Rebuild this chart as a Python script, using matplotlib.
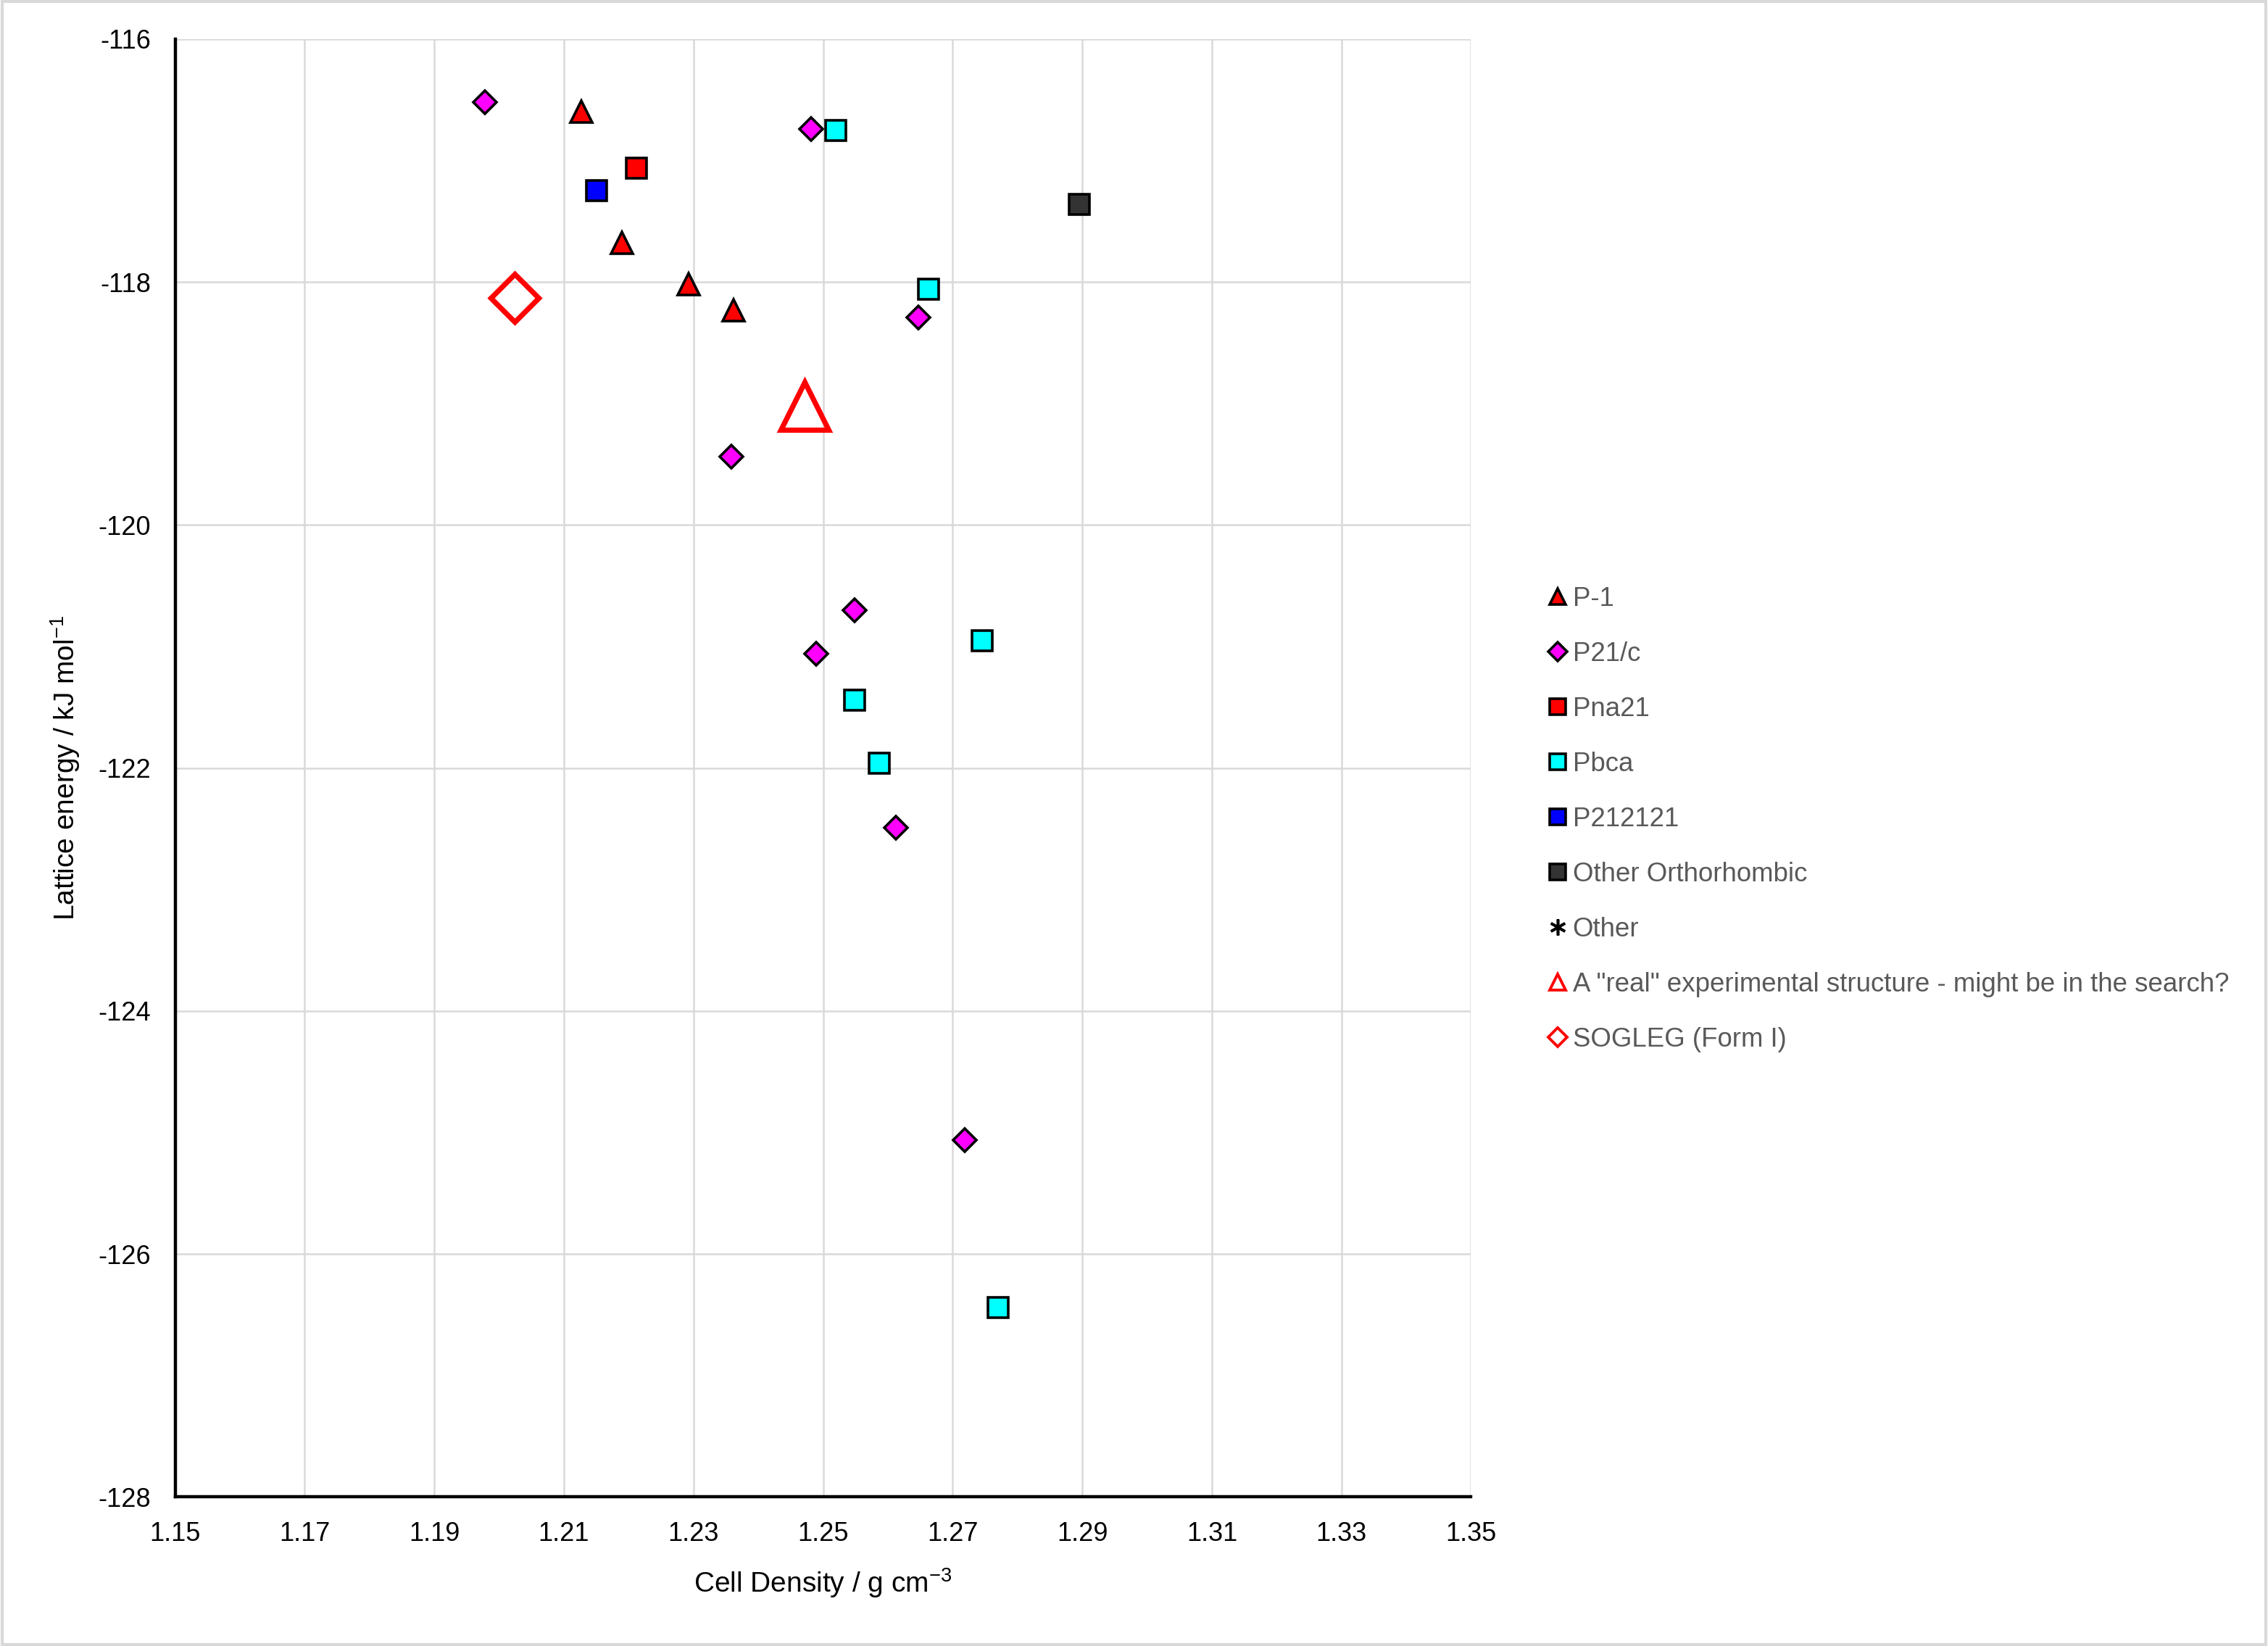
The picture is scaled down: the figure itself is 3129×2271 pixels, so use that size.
import matplotlib
matplotlib.use("Agg")
import matplotlib.pyplot as plt
from matplotlib.patches import Rectangle

plt.rcParams['font.family'] = ['Liberation Sans Narrow', 'Liberation Sans', 'DejaVu Sans']
plt.rcParams['mathtext.default'] = 'regular'
plt.rcParams['axes.unicode_minus'] = False

# data (density g/cm3, lattice energy kJ/mol)
p1_x = [1.2127, 1.2190, 1.2292, 1.2362]
p1_y = [-116.60, -117.68, -118.02, -118.23]

p21c_x = [1.1978, 1.2482, 1.2647, 1.2359, 1.2549, 1.2489, 1.2612, 1.2719]
p21c_y = [-116.52, -116.74, -118.29, -119.44, -120.70, -121.06, -122.49, -125.06]

pna21_x = [1.2212]
pna21_y = [-117.06]

pbca_x = [1.2520, 1.2663, 1.2746, 1.2549, 1.2587, 1.2770]
pbca_y = [-116.75, -118.06, -120.95, -121.44, -121.96, -126.44]

p212121_x = [1.2150]
p212121_y = [-117.25]

orth_x = [1.2895]
orth_y = [-117.36]

other_x = []
other_y = []

real_x = [1.2472]
real_y = [-119.02]

sogleg_x = [1.2024]
sogleg_y = [-118.13]

xticks = [1.15, 1.17, 1.19, 1.21, 1.23, 1.25, 1.27, 1.29, 1.31, 1.33, 1.35]
yticks = [-128, -126, -124, -122, -120, -118, -116]

fig = plt.figure(figsize=(15.645, 11.355), dpi=200)
ax = fig.add_axes([0.0772, 0.0905, 0.5714, 0.8858])

ec = 'black'
ax.plot(p1_x, p1_y, ls='none', marker='^', ms=11, mfc='#ff0000', mec=ec, mew=1.3, label='P-1', zorder=3)
ax.plot(p21c_x, p21c_y, ls='none', marker='D', ms=8, mfc='#ff00ff', mec=ec, mew=1.3, label='P21/c', zorder=3)
ax.plot(pna21_x, pna21_y, ls='none', marker='s', ms=10, mfc='#ff0000', mec=ec, mew=1.3, label='Pna21', zorder=3)
ax.plot(pbca_x, pbca_y, ls='none', marker='s', ms=10, mfc='#00ffff', mec=ec, mew=1.3, label='Pbca', zorder=3)
ax.plot(p212121_x, p212121_y, ls='none', marker='s', ms=10, mfc='#0000ff', mec=ec, mew=1.3, label='P212121', zorder=3)
ax.plot(orth_x, orth_y, ls='none', marker='s', ms=10, mfc='#333333', mec=ec, mew=1.3, label='Other Orthorhombic', zorder=3)
ax.plot(other_x, other_y, ls='none', marker=(6, 2, 0), ms=10, mec=ec, mew=1.3, label='Other', zorder=3)
ax.plot(real_x, real_y, ls='none', marker='^', ms=24, mfc='none', mec='#ff0000', mew=2.6,
        label='A "real" experimental structure - might be in the search?', zorder=4)
ax.plot(sogleg_x, sogleg_y, ls='none', marker='D', ms=17, mfc='none', mec='#ff0000', mew=2.6,
        label='SOGLEG (Form I)', zorder=4)

ax.set_xlim(1.15, 1.35)
ax.set_ylim(-128, -116)
ax.set_xticks(xticks)
ax.set_xticklabels(['%.2f' % v for v in xticks])
ax.set_yticks(yticks)
ax.grid(True, color='#d9d9d9', lw=0.9)
ax.set_axisbelow(True)
ax.tick_params(length=0, labelsize=13, pad=12)

for s in ['top', 'right']:
    ax.spines[s].set_visible(False)
for s in ['left', 'bottom']:
    ax.spines[s].set_linewidth(1.6)
    ax.spines[s].set_color('black')

ax.set_xlabel('Cell Density / g cm$^{-3}$', fontsize=14, labelpad=10)
ax.set_ylabel('Lattice energy / kJ mol$^{-1}$', fontsize=14, labelpad=8)

leg = ax.legend(loc='upper left', bbox_to_anchor=(0.677, 0.652), bbox_transform=fig.transFigure,
                frameon=False, fontsize=13.2, labelspacing=1.12, handletextpad=0.2,
                handlelength=0.7, borderpad=0, markerscale=1.0)
for txt in leg.get_texts():
    txt.set_color('#595959')
# legend symbols are all drawn small
for h in leg.legend_handles:
    if h.get_marker() == 'D':
        h.set_markersize(6.5)
    else:
        h.set_markersize(8)
    if h.get_markeredgecolor() == '#ff0000':
        h.set_markeredgewidth(1.4)

fig.add_artist(Rectangle((0.001, 0.001), 0.998, 0.998, transform=fig.transFigure,
                         fill=False, ec='#d9d9d9', lw=1.5))

fig.savefig('out.png', dpi=200)
